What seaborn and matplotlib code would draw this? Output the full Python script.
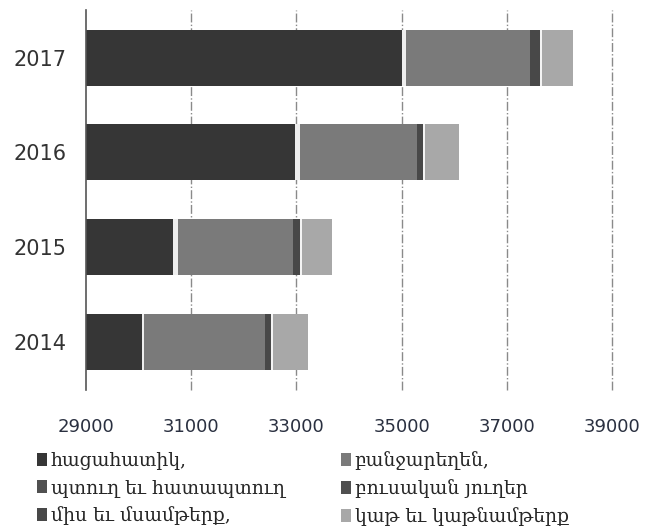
import numpy as np
import pandas as pd
import seaborn as sns
import matplotlib.pyplot as plt
from matplotlib.patches import Patch

# data
years = ["2017", "2016", "2015", "2014"]
grain = [35000, 32970, 30650, 30060]
fruit = [80, 95, 95, 50]
veg = [2360, 2225, 2185, 2290]
meat = [190, 115, 135, 115]
oil = [30, 40, 40, 40]
milk = [600, 645, 570, 665]

names = ["հացահատիկ,", "պտուղ եւ հատապտուղ", "բանջարեղեն,",
         "միս եւ մսամթերք,", "բուսական յուղեր", "կաթ եւ կաթնամթերք"]
colors = ["#363636", "#eeeeee", "#7a7a7a", "#484848", "#f4f4f4", "#a8a8a8"]
series = [grain, fruit, veg, meat, oil, milk]

df = pd.DataFrame({"year": years})
cum = np.zeros(len(years))
for name, vals in zip(names, series):
    cum = cum + np.array(vals)
    df[name] = cum.copy()

sns.set_style("white")
fig = plt.figure(figsize=(6.56, 5.31), dpi=100)
ax = fig.add_axes([0.131, 0.266, 0.802, 0.715])

# stacked bars: draw cumulative totals from largest to smallest
for name, col in reversed(list(zip(names, colors))):
    sns.barplot(data=df, x=name, y="year", orient="h", order=years,
                color=col, width=0.59, saturation=1, ax=ax, linewidth=0)

ax.set_xlim(29000, 39000)
ax.set_ylim(3.5, -0.5)
ax.set_xticks(range(29000, 39001, 2000))
ax.set_xlabel("")
ax.set_ylabel("")
for x in range(31000, 39001, 2000):
    ax.axvline(x, color="#8a8a8a", lw=1, ls="-.", zorder=0, clip_on=False)

for s in ["top", "right", "bottom"]:
    ax.spines[s].set_visible(False)
ax.spines["left"].set_color("#555555")
ax.spines["left"].set_linewidth(1.2)
ax.tick_params(axis="x", length=0, pad=20, labelsize=13, labelcolor="#2a3040")
ax.tick_params(axis="y", length=0, pad=14, labelsize=15, labelcolor="#333333")

leg_order = [0, 1, 3, 2, 4, 5]
handles = [Patch(facecolor=colors[i] if colors[i] not in ("#eeeeee", "#f4f4f4") else "#505050",
                 edgecolor="none", label=names[i]) for i in leg_order]
fig.legend(handles=handles, ncol=2, loc="lower left", bbox_to_anchor=(0.03, -0.022),
           frameon=False, handlelength=0.55, handleheight=0.7,
           handletextpad=0.2, columnspacing=3.0, labelspacing=0.48,
           prop={"family": "DejaVu Serif", "size": 13.5})

fig.savefig("out.png", dpi=100)
